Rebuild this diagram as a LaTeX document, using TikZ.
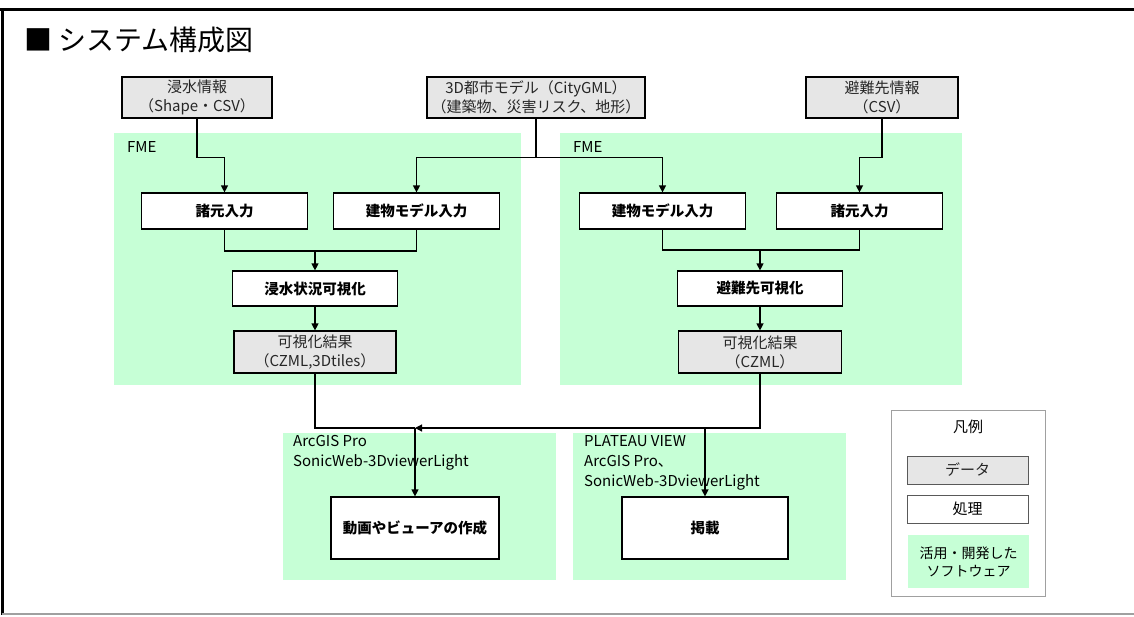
\documentclass[tikz,border=0pt]{standalone}
\usepackage{fontspec}
\setmainfont{Noto Sans CJK JP}
\usetikzlibrary{arrows.meta}
\definecolor{softgreen}{RGB}{198,255,214}
\definecolor{datagray}{RGB}{230,230,230}
\definecolor{legendgray}{RGB}{160,160,160}

\begin{document}
\begin{tikzpicture}[
    x=1pt, y=-1pt,
    data node/.style={draw=black, fill=datagray, line width=1.2pt, inner sep=0pt, align=center, text=black!85, font=\fontsize{15}{19}\selectfont},
    proc node/.style={draw=black, fill=white, line width=1.2pt, inner sep=0pt, align=center, font=\fontsize{14.5}{18}\selectfont\bfseries},
    soft area/.style={fill=softgreen, inner sep=0pt},
    area label/.style={anchor=north west, align=left, inner sep=0pt, font=\fontsize{15}{20}\selectfont},
    flow edge/.style={line width=1.2pt, draw=black},
    flow arrow/.style={flow edge, -{Triangle[length=7pt,width=7pt]}}
]
\useasboundingbox (0,0) rectangle (1134,616);

% 外枠とタイトル
\draw[line width=3pt] (0,9) -- (1134,9);
\draw[line width=3pt] (2,9) -- (2,615);
\draw[legendgray, line width=1.5pt] (2,614) -- (1134,614);
\node[anchor=west, inner sep=0pt, font=\fontsize{28}{32}\selectfont] (title) at (24,40) {■ システム構成図};

% ソフトウェア領域
\node[soft area, minimum width=407pt, minimum height=252pt] (fmeL) at (317.5,259) {};
\node[soft area, minimum width=402pt, minimum height=252pt] (fmeR) at (761,259) {};
\node[soft area, minimum width=273pt, minimum height=147pt] (viewL) at (419.5,506.5) {};
\node[soft area, minimum width=273pt, minimum height=147pt] (viewR) at (709.5,506.5) {};

\node[area label, anchor=west] (fmeLlabel) at (127,147) {FME};
\node[area label, anchor=west] (fmeRlabel) at (573,147) {FME};
\node[area label] (viewLlabel) at (293,435) {ArcGIS Pro\\SonicWeb-3DviewerLight};
\node[area label] (viewRlabel) at (584,435) {PLATEAU VIEW\\ArcGIS Pro、\\SonicWeb-3DviewerLight};

% 入力データ
\node[data node, minimum width=150pt, minimum height=41pt] (flood) at (197,97.5) {浸水情報\\（Shape・CSV）};
\node[data node, minimum width=218pt, minimum height=41pt] (city) at (536,97.5) {3D都市モデル（CityGML）\\（建築物、災害リスク、地形）};
\node[data node, minimum width=152pt, minimum height=41pt] (shelter) at (882,97.5) {避難先情報\\（CSV）};

% FME 処理
\node[proc node, minimum width=166pt, minimum height=36pt] (specL) at (224.5,211) {諸元入力};
\node[proc node, minimum width=166pt, minimum height=36pt] (bldgL) at (416.5,211) {建物モデル入力};
\node[proc node, minimum width=166pt, minimum height=36pt] (bldgR) at (662.5,211) {建物モデル入力};
\node[proc node, minimum width=166pt, minimum height=36pt] (specR) at (859.5,211) {諸元入力};
\node[proc node, minimum width=165pt, minimum height=35pt] (floodVis) at (315,288.5) {浸水状況可視化};
\node[proc node, minimum width=165pt, minimum height=35pt] (shelterVis) at (760,288.5) {避難先可視化};
\node[data node, minimum width=162pt, minimum height=42pt] (resultL) at (315,352) {可視化結果\\（CZML,3Dtiles）};
\node[data node, minimum width=163pt, minimum height=42pt] (resultR) at (760,352) {可視化結果\\（CZML）};

% 公開
\node[proc node, minimum width=168pt, minimum height=62pt] (movie) at (415,528) {動画やビューアの作成};
\node[proc node, minimum width=166pt, minimum height=62pt] (publish) at (705,528) {掲載};

% 凡例
\node[draw=legendgray, line width=1pt, minimum width=154pt, minimum height=186pt] (legend) at (968,503) {};
\node[font=\fontsize{15}{18}\selectfont] (legendTitle) at (968,427) {凡例};
\node[data node, draw=black!65, line width=0.8pt, minimum width=121pt, minimum height=28pt, font=\fontsize{15}{18}\selectfont] (legendData) at (967.5,470) {データ};
\node[proc node, draw=black!65, line width=0.8pt, minimum width=121pt, minimum height=28pt, font=\fontsize{15}{18}\selectfont] (legendProc) at (967.5,509) {処理};
\node[soft area, align=center, minimum width=121pt, minimum height=53pt, font=\fontsize{14}{18}\selectfont] (legendSoft) at (968.5,561.5) {活用・開発した\\ソフトウェア};

% 接続
\coordinate (joinL) at (315,251);
\coordinate (joinR) at (760,250);
\coordinate (joinB) at (415,428);
\coordinate (dropR) at (705,428);

\draw[flow arrow] (flood.south) -- ++(0,39) -| (specL.north);
\draw[flow arrow] (city.south) -- ++(0,39) -| (bldgL.north);
\draw[flow arrow] (city.south) -- ++(0,39) -| (bldgR.north);
\draw[flow arrow] (shelter.south) -- ++(0,39) -| (specR.north);

\draw[flow edge] (specL.south) |- (joinL) -| (bldgL.south);
\draw[flow arrow] (joinL) -- (floodVis.north);
\draw[flow arrow] (floodVis.south) -- (resultL.north);

\draw[flow edge] (bldgR.south) |- (joinR) -| (specR.south);
\draw[flow arrow] (joinR) -- (shelterVis.north);
\draw[flow arrow] (shelterVis.south) -- (resultR.north);

\draw[flow edge] (resultL.south) |- (joinB);
\draw[flow arrow] (resultR.south) |- (joinB);
\draw[flow arrow] (joinB) -- (movie.north);
\draw[flow arrow] (dropR) -- (publish.north);

\end{tikzpicture}
\end{document}
